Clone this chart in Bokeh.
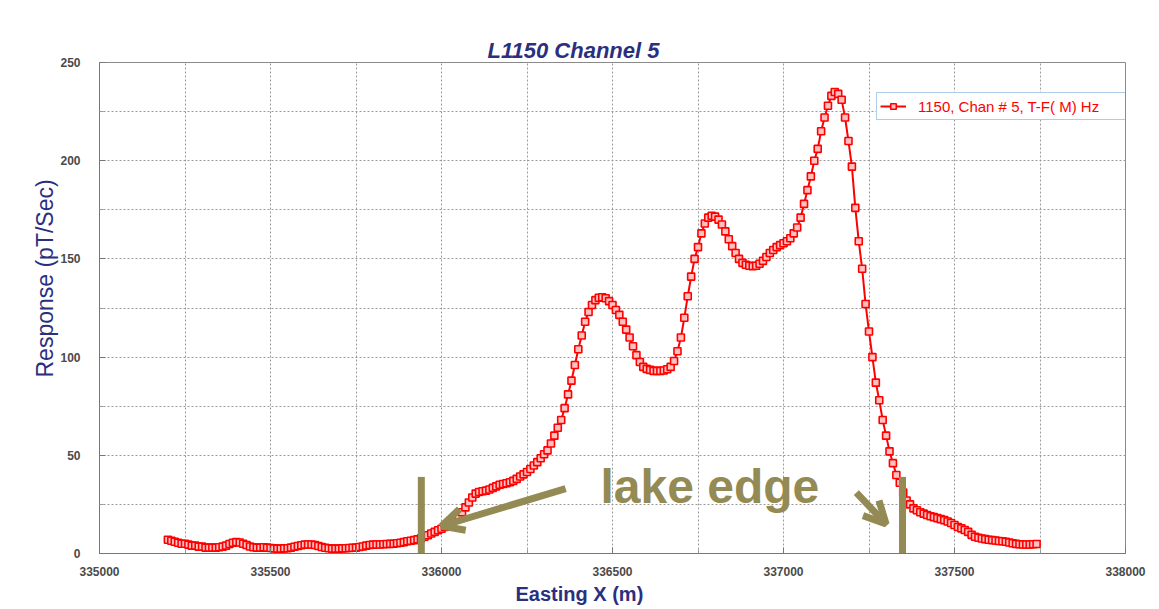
from bokeh.plotting import figure
from bokeh.models import (ColumnDataSource, FixedTicker, Arrow, OpenHead, Label,
                          Legend, LegendItem, NumeralTickFormatter, LinearAxis, Title)
from bokeh.embed import file_html
from bokeh.resources import INLINE

# ---------------- data ----------------
x_start = 335200
x_step = 10
response = [
    7, 6.5, 6, 5.5, 5, 5, 4.5, 4, 4, 3.5,
    3.5, 3, 3, 3, 3, 3.2, 3.5, 4, 4.8, 5.5,
    5.8, 5.6, 5, 4.3, 3.6, 3.2, 3, 3, 3.2, 3,
    2.8, 2.6, 2.5, 2.5, 2.6, 2.7, 3, 3.4, 3.8, 4.2,
    4.5, 4.6, 4.6, 4.3, 3.8, 3.3, 2.9, 2.7, 2.5, 2.5,
    2.5, 2.6, 2.7, 2.8, 2.9, 3, 3.3, 3.6, 4, 4.3,
    4.5, 4.6, 4.6, 4.7, 4.8, 4.9, 5, 5.2, 5.5, 5.8,
    6.2, 6.5, 6.8, 7.2, 7.8, 8.5, 9.3, 10.2, 11, 11.8,
    12.6, 13.5, 14.7, 16, 17.3, 19, 21, 23.5, 26, 28.5,
    30.5, 31.3, 31.7, 32, 32.6, 33.4, 34.2, 35, 35.4, 35.8,
    36.3, 37, 38, 39.2, 40.3, 41.5, 43, 44.8, 46.5, 48.5,
    50.5, 52.5, 56, 60, 64, 68, 74, 81, 88, 96,
    104, 111, 118, 123, 126.5, 129, 130.2, 130.5, 130, 128.5,
    126.5, 124, 121.5, 118, 114, 110, 105.5, 101, 97.5, 95,
    94, 93.5, 93, 93, 93, 93.2, 93.8, 95, 98, 103,
    110, 120, 131, 141, 150, 156, 163, 168, 171, 172,
    171.5, 170, 167.5, 164, 160, 156.5, 153, 150, 148, 147,
    146.5, 146.3, 146.5, 147.5, 149, 151, 153, 154.5, 156, 157,
    158, 159, 160.5, 163, 166, 171, 178, 185, 192, 200,
    206, 215, 222, 228, 233, 235, 234, 231, 222, 210,
    197, 176, 159, 145, 127, 113, 100, 87, 78, 68,
    60, 52, 46, 40, 36, 31, 27, 25, 23, 22,
    21, 20.3, 19.6, 19, 18.5, 18, 17.5, 17, 16.3, 15.5,
    14.5, 13.5, 12.8, 12, 11, 9.5, 8.5, 8, 7.6, 7.3,
    7, 6.8, 6.6, 6.4, 6.2, 6, 5.6, 5.2, 4.9, 4.7,
    4.6, 4.6, 4.6, 4.7, 4.8,
]
easting = [x_start + i * x_step for i in range(len(response))]

x_major_ticks = [335000, 335500, 336000, 336500, 337000, 337500, 338000]
x_minor_ticks = [335250, 335750, 336250, 336750, 337250, 337750]
y_major_ticks = [0, 50, 100, 150, 200, 250]
y_minor_ticks = [25, 75, 125, 175, 225]

lake_edges = [335941, 337348]
lake_bar_top = 39
series_label = "1150, Chan # 5, T-F( M) Hz"
title_text = "L1150 Channel 5"
x_label = "Easting  X (m)"
y_label = "Response (pT/Sec)"
note_text = "lake edge"

# ---------------- figure ----------------
NAVY = "#2b2f7f"
OLIVE = "#948a54"
RED = "#ff0000"

p = figure(width=1151, height=609, output_backend="svg", toolbar_location=None,
           x_range=(335000, 338000), y_range=(0, 250),
           min_border_left=99, min_border_right=26, min_border_top=62,
           min_border_bottom=56, background_fill_color="white",
           border_fill_color="white")

p.outline_line_color = "#8a8a8a"
p.outline_line_width = 1

for ax in (p.xaxis[0], p.yaxis[0]):
    ax.axis_line_color = "#777777"
    ax.major_tick_line_color = "#777777"
    ax.minor_tick_line_color = "#999999"
    ax.major_tick_in = 6
    ax.major_tick_out = 0
    ax.minor_tick_in = 4
    ax.minor_tick_out = 0
    ax.major_label_text_font = "Liberation Sans"
    ax.major_label_text_font_size = "12px"
    ax.major_label_text_font_style = "bold"
    ax.major_label_text_color = "#4a4a4a"

p.xaxis.ticker = FixedTicker(ticks=x_major_ticks, minor_ticks=x_minor_ticks)
p.yaxis.ticker = FixedTicker(ticks=y_major_ticks, minor_ticks=y_minor_ticks)
p.xaxis.formatter = NumeralTickFormatter(format="0")
p.xaxis.major_label_standoff = 13
p.yaxis.major_label_standoff = 19


def spacer(size):
    # an empty axis (no ticks, white tick style) used only to reserve space
    return LinearAxis(ticker=FixedTicker(ticks=[]), axis_line_color=None,
                      major_tick_line_color="white", minor_tick_line_color=None,
                      major_tick_in=0, major_tick_out=size, minor_tick_in=0,
                      minor_tick_out=0, major_label_standoff=0)


# title (pushed up by a spacer, placed left of centre as in the original)
p.add_layout(spacer(34), "above")
p.add_layout(Title(text=title_text, align="left", offset=388, standoff=0,
                   text_font="Liberation Sans", text_font_size="22px",
                   text_font_style="bold italic", text_color=NAVY), "above")

# x title
p.add_layout(Title(text=x_label, align="left", offset=416, standoff=4,
                   text_font="Liberation Sans", text_font_size="20px",
                   text_font_style="bold", text_color=NAVY), "below")

# y title
p.add_layout(spacer(28), "left")
p.add_layout(Title(text=y_label, align="left", offset=176, standoff=0,
                   text_font="Liberation Sans", text_font_size="23px",
                   text_font_style="normal", text_color=NAVY), "left")

for g in (p.xgrid[0], p.ygrid[0]):
    g.grid_line_color = "#9a9a9a"
    g.grid_line_dash = "2 2"
    g.grid_line_width = 1
    g.minor_grid_line_color = "#9a9a9a"
    g.minor_grid_line_dash = "2 2"
    g.minor_grid_line_width = 1

src = ColumnDataSource(dict(x=easting, y=response))
ln = p.line("x", "y", source=src, line_color=RED, line_width=2)
sc = p.scatter("x", "y", source=src, marker="square", size=7,
               line_color=RED, line_width=1.6, fill_color="#ffc0c0")

legend = Legend(items=[LegendItem(label=series_label, renderers=[ln, sc])],
                location=(777, 433), border_line_color="#5b9bd5",
                border_line_width=1, background_fill_color="white",
                background_fill_alpha=1.0, label_text_color=RED,
                label_text_font="Liberation Sans",
                label_text_font_size="15px", glyph_width=26,
                label_standoff=12, padding=3, margin=0, spacing=0,
                label_height=20, glyph_height=14, label_width=207)
p.add_layout(legend)

# lake edge annotations
p.segment(x0=lake_edges, y0=[0, 0], x1=lake_edges, y1=[lake_bar_top, lake_bar_top],
          line_color=OLIVE, line_width=7)
p.add_layout(Arrow(x_start=336363, y_start=33, x_end=336000, y_end=14,
                   line_color=OLIVE, line_width=7,
                   end=OpenHead(line_color=OLIVE, line_width=7, size=22)))
p.add_layout(Arrow(x_start=337213, y_start=31, x_end=337300, y_end=15,
                   line_color=OLIVE, line_width=7,
                   end=OpenHead(line_color=OLIVE, line_width=7, size=22)))
p.add_layout(Label(x=336465, y=34, text=note_text, text_color=OLIVE,
                   text_font="Liberation Sans", text_font_style="bold",
                   text_font_size="48px", text_baseline="alphabetic"))

open("out.html", "w").write(file_html(p, INLINE))
